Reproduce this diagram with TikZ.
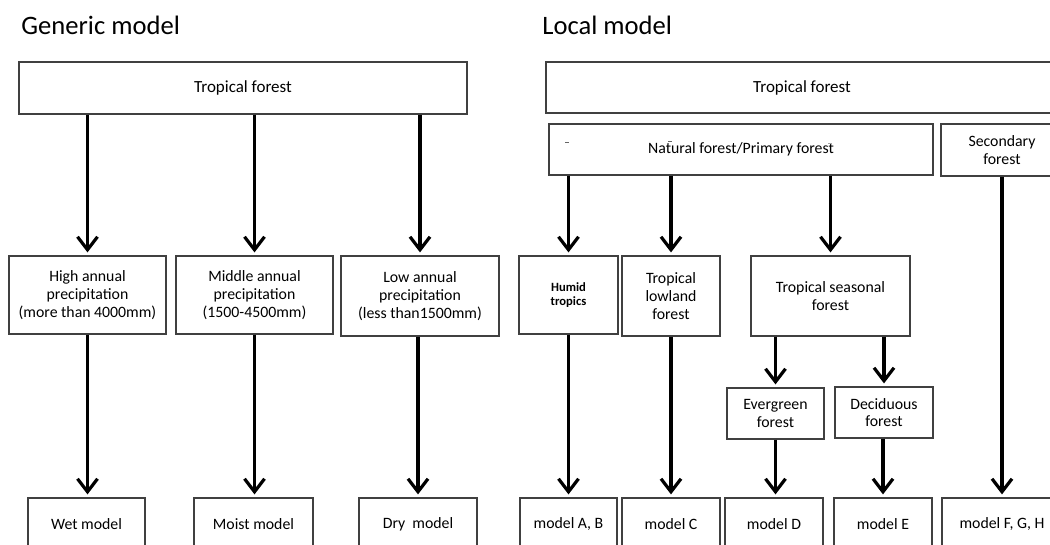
\documentclass[tikz,border=0pt]{standalone}
\usepackage{fontspec}
\setmainfont{Carlito}
\usetikzlibrary{shapes}
\usetikzlibrary{arrows.meta}

\begin{document}
\begin{tikzpicture}[x=0.5pt,y=-0.5pt]
					\tikzstyle{box}=[rectangle,draw=black!75,line width=0.6pt,align=center,inner sep=1pt,font=\fontsize{7.9}{8.9}\selectfont]
					\tikzstyle{title}=[anchor=base west,inner sep=0pt,font=\fontsize{13.3}{15}\selectfont]
					\tikzstyle{arr}=[line width=1.6pt,-{Straight Barb[length=6.5pt,width=10pt,line width=1.6pt]},shorten >=1.5pt]
					\useasboundingbox (0,0) rectangle (1050,545);
					% generic model
					\node[title] (gentitle) at (21,35) {Generic model};
					\node[box,minimum width=224pt,minimum height=26pt,font=\fontsize{8.5}{10}\selectfont] (gentop) at (243,88) {Tropical forest};
					\node[box,minimum width=78.5pt,minimum height=39pt] (high) at (87.5,295) {High annual\\precipitation\\(more than 4000mm)};
					\node[box,minimum width=78.5pt,minimum height=39pt] (middle) at (254.5,295) {Middle annual\\precipitation\\(1500-4500mm)};
					\node[box,minimum width=79pt,minimum height=40pt] (low) at (420,296) {Low annual\\precipitation\\(less than1500mm)};
					\node[box,minimum width=58.5pt,minimum height=26pt] (wet) at (86.5,524) {Wet model};
					\node[box,minimum width=59.5pt,minimum height=26pt] (moist) at (253.5,524) {Moist model};
					\node[box,minimum width=59pt,minimum height=26pt] (dry) at (418,524) {Dry~ model};
					% local model
					\node[title] (loctitle) at (542,35) {Local model};
					\node[box,minimum width=256pt,minimum height=25.5pt,font=\fontsize{8.5}{10}\selectfont] (loctop) at (802,87.5) {Tropical forest};
					\node[box,minimum width=192pt,minimum height=25.5pt] (natural) at (741,149.5) {Natural forest/Primary forest};
					\node[box,minimum width=61pt,minimum height=26pt] (secondary) at (1002,150) {Secondary\\forest};
					\node[box,minimum width=49.5pt,minimum height=39pt,font=\bfseries\fontsize{6.3}{7}\selectfont] (humid) at (568.5,295) {Humid\\tropics};
					\node[box,minimum width=49pt,minimum height=40pt] (lowland) at (671,296) {Tropical\\lowland\\forest};
					\node[box,minimum width=79.5pt,minimum height=40pt] (seasonal) at (830.5,296) {Tropical seasonal\\forest};
					\node[box,minimum width=48.5pt,minimum height=25.5pt] (evergreen) at (775.5,413.5) {Evergreen\\forest};
					\node[box,minimum width=49pt,minimum height=25.5pt] (deciduous) at (884,412.5) {Deciduous\\forest};
					\node[box,minimum width=48.5pt,minimum height=26pt] (modelab) at (568.5,524) {model A, B};
					\node[box,minimum width=49pt,minimum height=26pt] (modelc) at (671,524) {model C};
					\node[box,minimum width=49pt,minimum height=26pt] (modeld) at (774,524) {model D};
					\node[box,minimum width=49pt,minimum height=26pt] (modele) at (883,524) {model E};
					\node[box,minimum width=60pt,minimum height=26pt] (modelfgh) at (1002,524) {model F, G, H};
					% stray marks
					\draw[black!60,line width=0.4pt] (565,142) -- (569,142);
					\draw[black!60,line width=0.4pt] (668,141) -- (672,141);
					\draw[black!35,line width=0.4pt] (828,143) -- (832,143);
					% arrows
					\foreach \n in {high,middle,low}
						\draw[arr] (gentop.south -| \n.north) -- (\n.north);
					\draw[arr] (high.south) -- (wet.north -| high.south);
					\draw[arr] (middle.south) -- (moist.north -| middle.south);
					\draw[arr] (low.south -| dry.north) -- (dry.north);
					\foreach \n in {humid,lowland,seasonal}
						\draw[arr] (natural.south -| \n.north) -- (\n.north);
					\draw[arr] (humid.south) -- (modelab.north -| humid.south);
					\draw[arr] (lowland.south) -- (modelc.north -| lowland.south);
					\draw[arr] (seasonal.south -| evergreen.north) -- (evergreen.north);
					\draw[arr] (seasonal.south -| deciduous.north) -- (deciduous.north);
					\draw[arr] (evergreen.south) -- (modeld.north -| evergreen.south);
					\draw[arr] (deciduous.south -| modele.north) -- (modele.north);
					\draw[arr] (secondary) -- (modelfgh);
\end{tikzpicture}
\end{document}
